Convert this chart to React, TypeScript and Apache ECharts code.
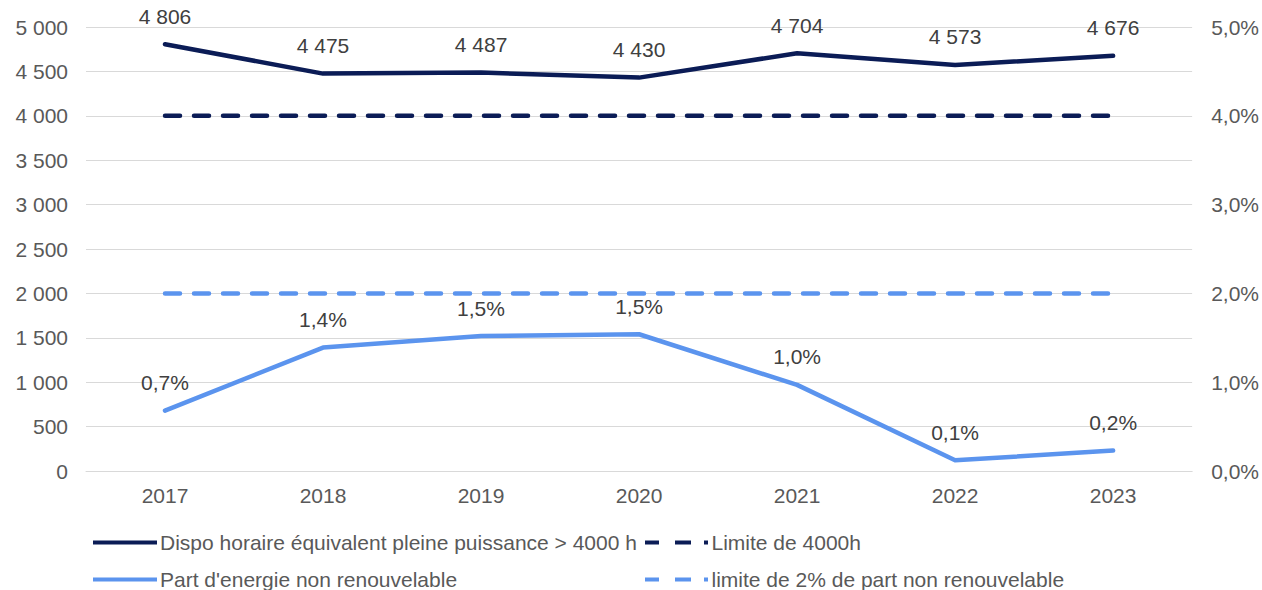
import React, { useEffect, useRef } from "react";
import * as echarts from "echarts";

const years = ["2017", "2018", "2019", "2020", "2021", "2022", "2023"];
const dispo = [4806, 4475, 4487, 4430, 4704, 4573, 4676];
const limite4000 = [4000, 4000, 4000, 4000, 4000, 4000, 4000];
const partNonRenouv = [0.68, 1.39, 1.52, 1.54, 0.97, 0.12, 0.23];
const limite2 = [2, 2, 2, 2, 2, 2, 2];

const NAVY = "#0B1C56";
const BLUE = "#5B94EE";
const FONT = "Liberation Sans, Arial, sans-serif";
const FS = 21;

const SOLID_ICON = "path://M0,0h64v4h-64z";
const DASH_ICON = "path://M0,0h14v4h-14z M30,0h16v4h-16z M59,0h4v4h-4z";

const fmtThousands = (v: number) =>
  String(Math.round(v)).replace(/\B(?=(\d{3})+(?!\d))/g, " ");
const fmtPct = (v: number) => v.toFixed(1).replace(".", ",") + "%";

export default function App() {
  const ref = useRef<HTMLDivElement>(null);
  useEffect(() => {
    if (!ref.current) return;
    const chart = echarts.init(ref.current, null, { renderer: "svg" });
    const legendBase = {
      orient: "horizontal" as const,
      itemWidth: 64,
      itemHeight: 4,
      itemGap: 4,
      textStyle: { color: "#595959", fontSize: FS, fontFamily: FONT, padding: [0, 0, 0, -2] },
    };
    const labelStyle = {
      show: true,
      position: "top" as const,
      distance: 17,
      color: "#404040",
      fontSize: FS,
      fontFamily: FONT,
    };
    chart.setOption({
      animation: false,
      textStyle: { fontFamily: FONT },
      grid: { left: 86, right: 69, top: 27, bottom: 119, containLabel: false },
      legend: [
        { ...legendBase, left: 88, top: 527, data: [{ name: "Dispo horaire équivalent pleine puissance > 4000 h", icon: SOLID_ICON }] },
        { ...legendBase, left: 640, top: 527, data: [{ name: "Limite de 4000h", icon: DASH_ICON }] },
        { ...legendBase, left: 88, top: 564, data: [{ name: "Part d'energie non renouvelable", icon: SOLID_ICON }] },
        { ...legendBase, left: 640, top: 564, data: [{ name: "limite de 2% de part non renouvelable", icon: DASH_ICON }] },
      ],
      xAxis: {
        type: "category",
        data: years,
        boundaryGap: true,
        axisLine: { show: true, lineStyle: { color: "#D9D9D9", width: 1 } },
        axisTick: { show: false },
        axisLabel: { color: "#595959", fontSize: FS, margin: 14, fontFamily: FONT },
      },
      yAxis: [
        {
          type: "value",
          min: 0,
          max: 5000,
          interval: 500,
          axisLine: { show: false },
          axisTick: { show: false },
          splitLine: { lineStyle: { color: "#D9D9D9", width: 1 } },
          axisLabel: {
            color: "#595959",
            fontSize: FS,
            margin: 18,
            fontFamily: FONT,
            formatter: (v: number) => fmtThousands(v),
          },
        },
        {
          type: "value",
          min: 0,
          max: 5,
          interval: 1,
          position: "right",
          axisLine: { show: false },
          axisTick: { show: false },
          splitLine: { show: false },
          axisLabel: {
            color: "#595959",
            fontSize: FS,
            margin: 19,
            fontFamily: FONT,
            formatter: (v: number) => fmtPct(v),
          },
        },
      ],
      series: [
        {
          name: "Dispo horaire équivalent pleine puissance > 4000 h",
          type: "line",
          data: dispo,
          yAxisIndex: 0,
          symbol: "circle",
          symbolSize: 1,
          showSymbol: true,
          lineStyle: { color: NAVY, width: 4.5, cap: "round", join: "round" },
          itemStyle: { color: NAVY },
          label: { ...labelStyle, formatter: (p: any) => fmtThousands(p.value) },
          z: 5,
        },
        {
          name: "Limite de 4000h",
          type: "line",
          data: limite4000,
          yAxisIndex: 0,
          symbol: "none",
          lineStyle: { color: NAVY, width: 4.5, type: [15, 14], cap: "round" },
          itemStyle: { color: NAVY },
          z: 4,
        },
        {
          name: "Part d'energie non renouvelable",
          type: "line",
          data: partNonRenouv,
          yAxisIndex: 1,
          symbol: "circle",
          symbolSize: 1,
          showSymbol: true,
          lineStyle: { color: BLUE, width: 4.5, cap: "round", join: "round" },
          itemStyle: { color: BLUE },
          label: { ...labelStyle, formatter: (p: any) => fmtPct(p.value) },
          z: 5,
        },
        {
          name: "limite de 2% de part non renouvelable",
          type: "line",
          data: limite2,
          yAxisIndex: 1,
          symbol: "none",
          lineStyle: { color: BLUE, width: 4.5, type: [15, 14], cap: "round" },
          itemStyle: { color: BLUE },
          z: 4,
        },
      ],
    });
    return () => chart.dispose();
  }, []);
  return (
    <div
      ref={ref}
      style={{ position: "absolute", left: 0, top: 0, width: 1262, height: 590 }}
    />
  );
}
